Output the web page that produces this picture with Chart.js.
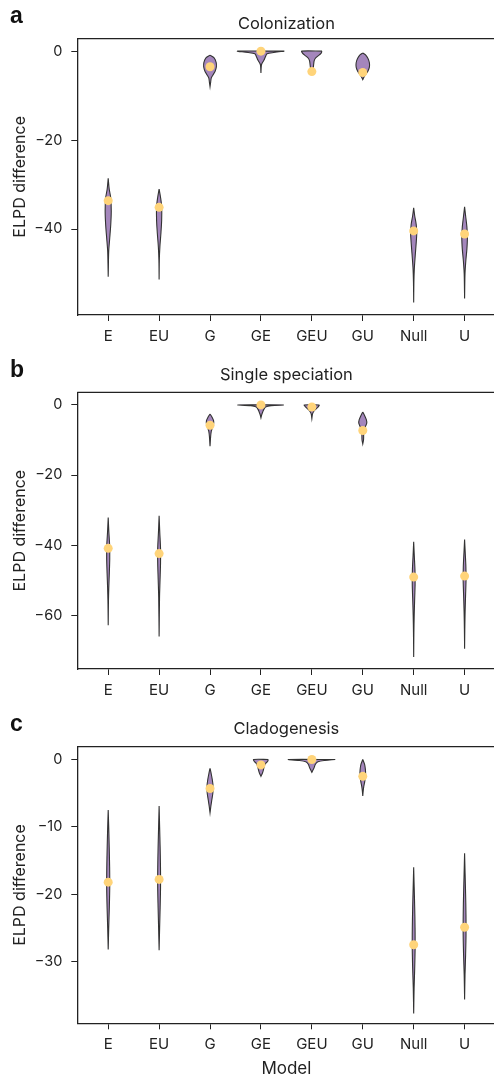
<!DOCTYPE html>
<html>
<head>
<meta charset="utf-8">
<script src="https://cdn.jsdelivr.net/npm/chart.js@4.4.0/dist/chart.umd.min.js"></script>
<style>
  html, body { margin: 0; padding: 0; background: #fff; overflow: hidden; width: 494px; height: 1079px; }
  .panel { position: absolute; left: 0; width: 494px; overflow: hidden; }
  .letter { position: absolute; left: 10px; font: bold 23px 'Liberation Sans', Arial, sans-serif; line-height: 23px; color: #111; z-index: 2; }
</style>
</head>
<body>
<div class="panel" style="top:0;height:355px"><canvas id="chartA" width="500" height="355"></canvas></div>
<div class="panel" style="top:355px;height:355px"><canvas id="chartB" width="500" height="355"></canvas></div>
<div class="panel" style="top:710px;height:369px"><canvas id="chartC" width="500" height="369"></canvas></div>
<div class="letter" style="top:4px">a</div>
<div class="letter" style="top:358px">b</div>
<div class="letter" style="top:712px">c</div>
<script>
const models = ['E', 'EU', 'G', 'GE', 'GEU', 'GU', 'Null', 'U'];

// observed ELPD difference (yellow dots)
const colonizationObserved = [-33.6, -35.1, -3.5, 0, -4.6, -4.8, -40.4, -41.1];
const speciationObserved = [-40.9, -42.4, -5.8, 0, -0.6, -7.3, -49.1, -48.8];
const cladogenesisObserved = [-18.2, -17.8, -4.3, -0.8, 0, -2.5, -27.5, -24.9];

// violin outlines: [value, half width in category units]
const colonizationViolins = [
  [[-28.6, 0], [-31, 0.02], [-33, 0.05], [-36, 0.06], [-39, 0.05], [-42, 0.03], [-45, 0.01], [-48, 0.004], [-50.7, 0]],
  [[-31, 0], [-33, 0.03], [-35, 0.05], [-38, 0.05], [-41, 0.035], [-44, 0.015], [-47, 0.004], [-51.3, 0]],
  [[-0.9, 0], [-1.5, 0.08], [-2.5, 0.12], [-3.5, 0.125], [-4.5, 0.1], [-5.3, 0.06], [-6, 0.025], [-7, 0.012], [-8, 0]],
  [[0, 0.46], [-0.3, 0.25], [-0.6, 0.12], [-1.2, 0.09], [-2, 0.06], [-2.8, 0.02], [-3.2, 0.008], [-4.9, 0]],
  [[0, 0.2], [-0.5, 0.18], [-1, 0.13], [-1.6, 0.07], [-2.2, 0.045], [-3, 0.035], [-3.8, 0.025], [-4.3, 0]],
  [[-0.4, 0], [-0.8, 0.05], [-1.6, 0.1], [-2.6, 0.13], [-3.6, 0.13], [-4.5, 0.1], [-5.3, 0.05], [-5.9, 0.02], [-6.4, 0]],
  [[-35.2, 0], [-37, 0.02], [-39, 0.05], [-41, 0.06], [-43, 0.05], [-46, 0.03], [-49, 0.012], [-52, 0.004], [-56.5, 0]],
  [[-35, 0], [-37, 0.02], [-39.5, 0.045], [-42, 0.055], [-44.5, 0.045], [-47, 0.025], [-50, 0.008], [-55.6, 0]]
];
const speciationViolins = [
  [[-32.1, 0], [-36, 0.012], [-40, 0.028], [-44, 0.03], [-48, 0.022], [-52, 0.012], [-56, 0.005], [-62.8, 0]],
  [[-31.6, 0], [-36, 0.012], [-41, 0.028], [-45, 0.028], [-50, 0.018], [-55, 0.008], [-66, 0]],
  [[-2.6, 0], [-3.5, 0.04], [-4.5, 0.07], [-5.5, 0.07], [-6.5, 0.045], [-7.5, 0.025], [-9, 0.012], [-11.8, 0]],
  [[0, 0.45], [-0.25, 0.2], [-0.6, 0.09], [-1.2, 0.06], [-2, 0.035], [-2.8, 0.015], [-3.7, 0]],
  [[0, 0.15], [-0.6, 0.12], [-1.3, 0.07], [-2, 0.03], [-2.6, 0.012], [-3.9, 0]],
  [[-2, 0], [-3, 0.035], [-4.2, 0.07], [-5.2, 0.078], [-6.2, 0.05], [-7, 0.025], [-8, 0.018], [-10, 0.015], [-11.1, 0]],
  [[-39, 0], [-43, 0.012], [-47, 0.025], [-51, 0.028], [-55, 0.02], [-60, 0.01], [-65, 0.004], [-71.9, 0]],
  [[-38.4, 0], [-42, 0.012], [-46, 0.025], [-50, 0.028], [-54, 0.02], [-59, 0.01], [-64, 0.004], [-69.5, 0]]
];
const cladogenesisViolins = [
  [[-7.5, 0], [-10, 0.01], [-13, 0.02], [-16, 0.028], [-19, 0.03], [-22, 0.022], [-25, 0.01], [-28.2, 0]],
  [[-6.9, 0], [-10, 0.01], [-13, 0.02], [-16, 0.027], [-19, 0.028], [-22, 0.02], [-25, 0.01], [-28.3, 0]],
  [[-1.3, 0], [-2, 0.02], [-3, 0.045], [-4, 0.06], [-5, 0.055], [-6, 0.035], [-7, 0.015], [-7.9, 0]],
  [[0, 0.145], [-0.3, 0.13], [-0.6, 0.09], [-1, 0.065], [-1.5, 0.05], [-2, 0.03], [-2.5, 0]],
  [[0, 0.46], [-0.15, 0.25], [-0.35, 0.12], [-0.7, 0.07], [-1.2, 0.045], [-1.6, 0.02], [-1.9, 0]],
  [[0, 0], [-0.7, 0.035], [-1.5, 0.052], [-2.3, 0.055], [-3.2, 0.04], [-4, 0.02], [-4.7, 0.008], [-5.4, 0]],
  [[-16, 0], [-19, 0.01], [-22, 0.02], [-25, 0.027], [-28, 0.028], [-31, 0.02], [-34, 0.008], [-37.7, 0]],
  [[-13.9, 0], [-17, 0.01], [-20, 0.02], [-23, 0.027], [-26, 0.028], [-29, 0.02], [-32, 0.008], [-35.6, 0]]
];

const colonizationTicks = [0, -20, -40];
const speciationTicks = [0, -20, -40, -60];
const cladogenesisTicks = [0, -10, -20, -30];

const FONT = 'Inter, "Noto Sans", sans-serif';
const INK = '#222';

// top edge of the box (the right edge falls outside the picture)
const frame = {
  id: 'frame',
  afterDraw(chart) {
    const { ctx, chartArea: a } = chart;
    ctx.save();
    ctx.strokeStyle = INK;
    ctx.lineWidth = 1.3;
    ctx.beginPath();
    ctx.moveTo(a.left, a.top);
    ctx.lineTo(a.right, a.top);
    ctx.stroke();
    ctx.restore();
  }
};

function makePanel(id, title, observed, violins, yTicks, yMin, yMax, titlePad, xHeight, showModel) {
  const datasets = [{
    data: observed.map((v, i) => ({ x: i, y: v })),
    pointRadius: 4.5,
    pointBackgroundColor: '#ffd47a',
    pointBorderWidth: 0,
    showLine: false,
    order: 0
  }];
  violins.forEach((rows, i) => {
    const right = rows.map(r => ({ x: i + r[1], y: r[0] }));
    const left = rows.slice().reverse().map(r => ({ x: i - r[1], y: r[0] }));
    datasets.push({
      data: right.concat(left, [right[0]]),
      showLine: true,
      fill: 'shape',
      backgroundColor: '#a486bc',
      borderColor: '#333',
      borderWidth: 1.1,
      pointRadius: 0,
      tension: 0.3,
      order: 1
    });
  });

  new Chart(document.getElementById(id), {
    type: 'scatter',
    data: { datasets: datasets },
    options: {
      responsive: false,
      animation: false,
      events: [],
      layout: { padding: { left: 0, right: 3, top: 0, bottom: 0 } },
      plugins: {
        legend: { display: false },
        tooltip: { enabled: false },
        title: {
          display: true,
          text: title,
          fullSize: false,
          color: INK,
          font: { family: FONT, size: 16.5, weight: 'normal' },
          padding: titlePad
        }
      },
      scales: {
        x: {
          type: 'linear',
          min: -0.607,
          max: 7.607,
          afterBuildTicks: ax => { ax.ticks = models.map((m, i) => ({ value: i })); },
          afterFit: ax => { ax.height = xHeight; },
          ticks: {
            callback: v => models[v],
            color: INK,
            font: { family: FONT, size: 15 },
            padding: 6,
            maxRotation: 0,
            autoSkip: false
          },
          grid: { display: true, drawOnChartArea: false, tickLength: 6, color: INK, lineWidth: 1 },
          border: { display: true, color: INK, width: 1.3 },
          title: {
            display: showModel,
            text: 'Model',
            color: INK,
            font: { family: FONT, size: 17 },
            padding: { top: 0, bottom: 0 }
          }
        },
        y: {
          min: yMin,
          max: yMax,
          afterBuildTicks: ax => { ax.ticks = yTicks.map(v => ({ value: v })); },
          afterFit: ax => { ax.width = 77.3; },
          ticks: {
            callback: v => v < 0 ? '\u2212' + Math.abs(v) : String(v),
            color: INK,
            font: { family: FONT, size: 14.5 },
            padding: 9
          },
          grid: { display: true, drawOnChartArea: false, tickLength: 6, color: INK, lineWidth: 1 },
          border: { display: true, color: INK, width: 1.3 },
          title: {
            display: true,
            text: 'ELPD difference',
            color: INK,
            font: { family: FONT, size: 16 },
            padding: { top: 10.4, bottom: 0 }
          }
        }
      }
    },
    plugins: [frame]
  });
}

makePanel('chartA', 'Colonization', colonizationObserved, colonizationViolins, colonizationTicks,
  -59.3, 2.8, { top: 14.1, bottom: 4.8 }, 40, false);
makePanel('chartB', 'Single speciation', speciationObserved, speciationViolins, speciationTicks,
  -75.3, 3.6, { top: 10.1, bottom: 7.4 }, 41, false);
makePanel('chartC', 'Cladogenesis', cladogenesisObserved, cladogenesisViolins, cladogenesisTicks,
  -39.15, 1.9, { top: 9.1, bottom: 7.8 }, 55.7, true);
</script>
</body>
</html>
